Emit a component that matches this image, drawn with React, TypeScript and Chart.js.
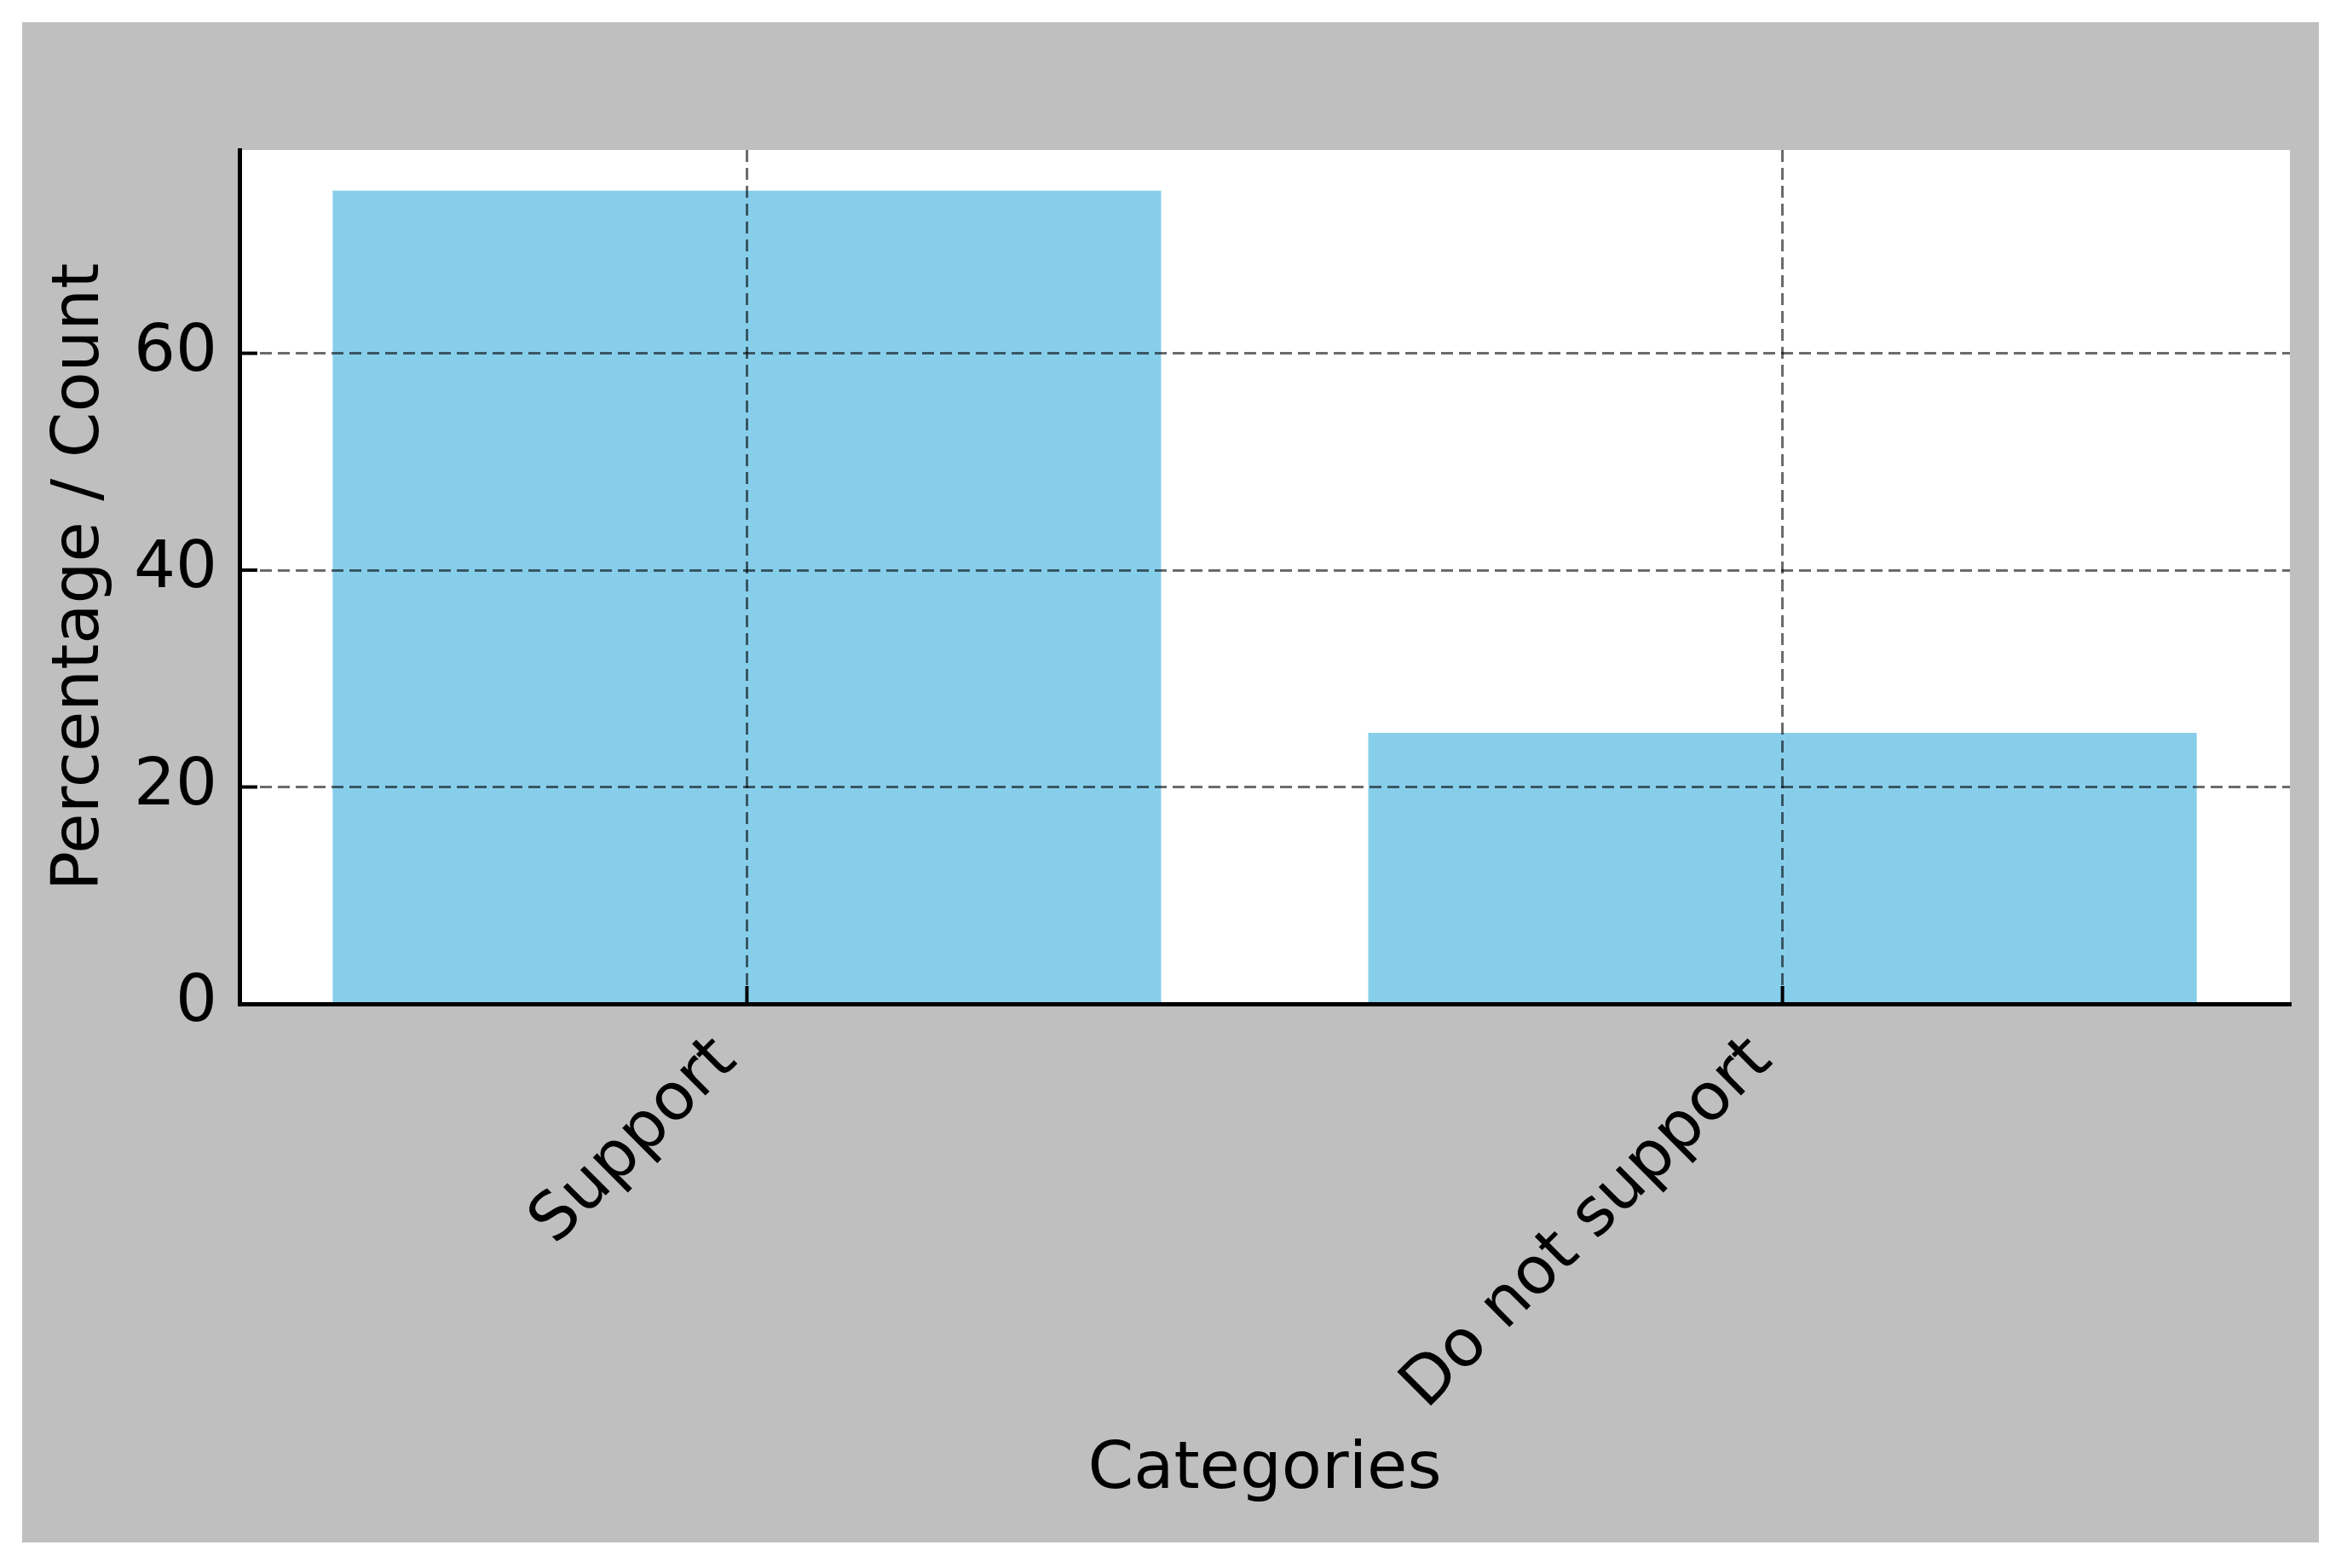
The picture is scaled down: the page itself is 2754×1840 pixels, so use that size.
import React, { useEffect, useRef } from 'react';
import { Chart, registerables } from 'chart.js';

Chart.register(...registerables);

const categories = ['Support', 'Do not support'];
const values = [75, 25];
const yTickValues = [0, 20, 40, 60];
const yAxisMax = 78.75;
const xAxisMin = -0.49;
const xAxisMax = 1.49;
const xTitle = 'Categories';
const yTitle = 'Percentage / Count';

const FONT = "'DejaVu Sans', 'Liberation Sans', sans-serif";

export default function App() {
  const ref = useRef<HTMLCanvasElement>(null);

  useEffect(() => {
    const canvas = ref.current;
    if (!canvas) return;

    const bgPlugin = {
      id: 'bgPlugin',
      beforeDraw(chart: any) {
        const { ctx, chartArea: a, width, height } = chart;
        ctx.save();
        ctx.fillStyle = '#ffffff';
        ctx.fillRect(0, 0, width, height);
        ctx.fillStyle = '#bfbfbf';
        ctx.fillRect(26, 26, 2695, 1784);
        ctx.fillStyle = '#ffffff';
        ctx.fillRect(a.left, a.top, a.right - a.left, a.bottom - a.top);
        ctx.restore();
      },
    };

    const inTicksPlugin = {
      id: 'inTicksPlugin',
      afterDraw(chart: any) {
        const { ctx, chartArea: a } = chart;
        const xs = chart.scales.x;
        const ys = chart.scales.y;
        ctx.save();
        ctx.strokeStyle = '#000000';
        ctx.lineWidth = 4;
        ys.ticks.forEach((t: any) => {
          const p = ys.getPixelForValue(t.value);
          ctx.beginPath();
          ctx.moveTo(a.left, p);
          ctx.lineTo(a.left + 21, p);
          ctx.stroke();
        });
        xs.ticks.forEach((t: any) => {
          const p = xs.getPixelForValue(t.value);
          ctx.beginPath();
          ctx.moveTo(p, a.bottom);
          ctx.lineTo(p, a.bottom - 21);
          ctx.stroke();
        });
        ctx.restore();
      },
    };

    const gridOpts = {
      display: true,
      drawTicks: false,
      offset: false,
      z: 1,
      color: 'rgba(0,0,0,0.58)',
      lineWidth: 3,
    };
    const borderOpts = {
      display: true,
      color: '#000000',
      width: 5,
      dash: [14, 7],
      z: 2,
    };

    const chart = new Chart(canvas, {
      type: 'bar',
      data: {
        datasets: [
          {
            label: yTitle,
            data: categories.map((c, i) => ({ x: i, y: values[i] })),
            backgroundColor: '#87CEEB',
            borderWidth: 0,
            barPercentage: 0.8,
            categoryPercentage: 1.0,
          },
        ],
      },
      options: {
        responsive: false,
        animation: false,
        devicePixelRatio: 1,
        layout: {
          padding: { left: 45, top: 176, right: 67, bottom: 64 },
        },
        plugins: {
          legend: { display: false },
          tooltip: { enabled: false },
        },
        scales: {
          x: {
            type: 'linear',
            min: xAxisMin,
            max: xAxisMax,
            offset: false,
            afterBuildTicks(scale: any) {
              scale.ticks = categories.map((_, i) => ({ value: i }));
            },
            afterFit(scale: any) {
              scale.height = 598;
            },
            ticks: {
              includeBounds: false,
              autoSkip: false,
              maxRotation: 45,
              minRotation: 45,
              padding: 22,
              labelOffset: -24,
              color: '#000000',
              font: { family: FONT, size: 77 },
              callback: (v: any) => categories[Math.round(Number(v))] ?? '',
            },
            grid: gridOpts,
            border: borderOpts,
            title: {
              display: true,
              text: xTitle,
              color: '#000000',
              font: { family: FONT, size: 77 },
            },
          },
          y: {
            type: 'linear',
            min: 0,
            max: yAxisMax,
            afterBuildTicks(scale: any) {
              scale.ticks = yTickValues.map((v) => ({ value: v }));
            },
            afterFit(scale: any) {
              scale.width = 236;
            },
            ticks: {
              includeBounds: false,
              padding: 26,
              color: '#000000',
              font: { family: FONT, size: 77 },
            },
            grid: gridOpts,
            border: borderOpts,
            title: {
              display: true,
              text: yTitle,
              color: '#000000',
              font: { family: FONT, size: 77 },
            },
          },
        },
      },
      plugins: [bgPlugin, inTicksPlugin],
    } as any);

    return () => {
      chart.destroy();
    };
  }, []);

  return (
    <div style={{ position: 'fixed', left: 0, top: 0, width: 2754, height: 1840 }}>
      <canvas ref={ref} width={2754} height={1840} style={{ display: 'block' }} />
    </div>
  );
}
